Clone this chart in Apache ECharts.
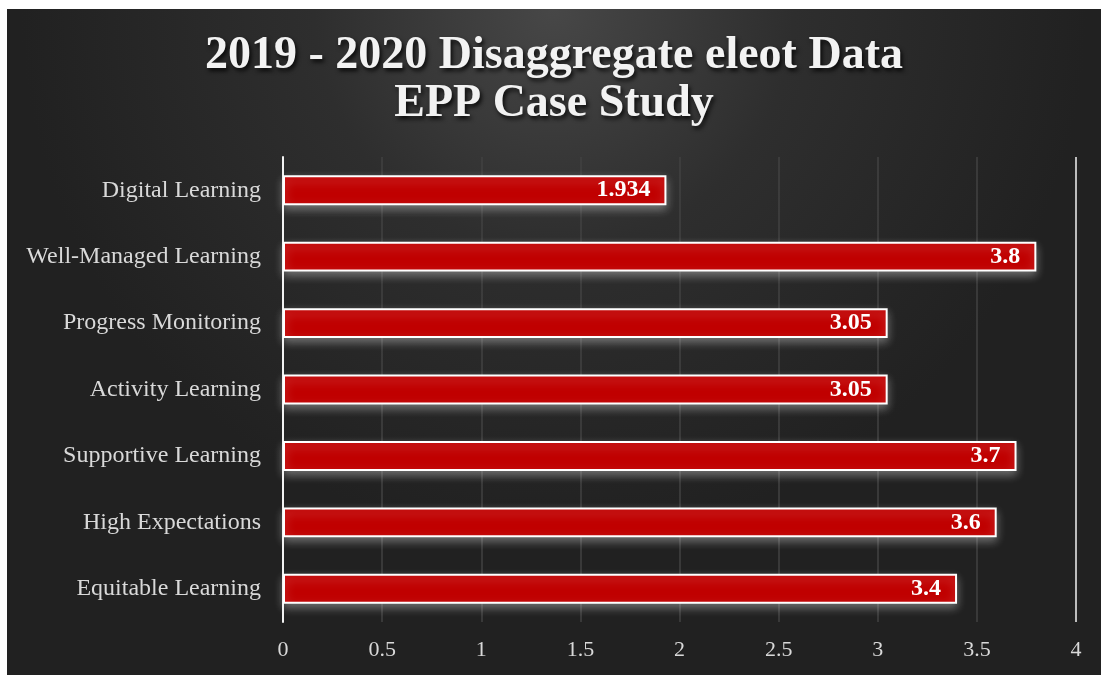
<!DOCTYPE html>
<html>
 <head>
  <meta charset="utf-8" />
  <title>eleot Data</title>
  <script src="https://cdn.jsdelivr.net/npm/echarts@6/dist/echarts.min.js"></script>
  <style>
   body { margin: 0; background: #fff; }
   #main { position: absolute; left: 7px; top: 9px; width: 1094px; height: 666px; }
  </style>
 </head>
 <body>
  <div id="main"></div>
  <script type="text/javascript">

    // categories from top to bottom as drawn
    var categories = ['Digital Learning', 'Well-Managed Learning', 'Progress Monitoring',
                      'Activity Learning', 'Supportive Learning', 'High Expectations', 'Equitable Learning'];
    var scores = [1.934, 3.8, 3.05, 3.05, 3.7, 3.6, 3.4];

    var serif = '"Liberation Serif", "DejaVu Serif", serif';

    var myChart = echarts.init(document.getElementById('main'));

    myChart.setOption({
        backgroundColor: {
            type: 'radial', x: 0.5, y: 0, r: 0.8,
            colorStops: [
                { offset: 0, color: '#474747' },
                { offset: 0.45, color: '#2e2e2e' },
                { offset: 1, color: '#212121' }
            ]
        },
        title: {
            text: '2019 - 2020 Disaggregate eleot Data\nEPP Case Study',
            left: 'center',
            top: 18,
            textStyle: {
                fontFamily: serif,
                fontSize: 46,
                fontWeight: 'bold',
                color: '#f2f2f2',
                lineHeight: 48,
                textShadowColor: 'rgba(0,0,0,0.8)',
                textShadowBlur: 4,
                textShadowOffsetX: 2,
                textShadowOffsetY: 3
            }
        },
        grid: { left: 276, right: 25, top: 148, bottom: 53 },
        xAxis: {
            type: 'value',
            min: 0,
            max: 4,
            interval: 0.5,
            axisLine: { show: false },
            axisTick: { show: false },
            axisLabel: { color: '#d9d9d9', fontFamily: serif, fontSize: 22, margin: 17 },
            splitLine: {
                lineStyle: {
                    width: 1.5,
                    color: ['#ffffff', '#424242', '#424242', '#424242', '#424242', '#424242', '#424242', '#424242', '#f2f2f2']
                }
            }
        },
        yAxis: {
            type: 'category',
            inverse: true,
            data: categories,
            axisLine: { show: true, lineStyle: { color: '#f2f2f2', width: 2 } },
            axisTick: { show: false },
            axisLabel: { color: '#d9d9d9', fontFamily: serif, fontSize: 24, margin: 22 }
        },
        series: [{
            type: 'bar',
            data: scores,
            barWidth: '45%',
            itemStyle: {
                color: '#c00000',
                borderColor: '#ffffff',
                borderWidth: 2,
                shadowColor: 'rgba(255,255,255,0.35)',
                shadowBlur: 10,
                shadowOffsetY: 4
            },
            label: {
                show: true,
                position: 'insideRight',
                distance: 16,
                color: '#ffffff',
                fontFamily: serif,
                fontSize: 24,
                fontWeight: 'bold'
            }
        }]
    });
</script>
 </body>
</html>
